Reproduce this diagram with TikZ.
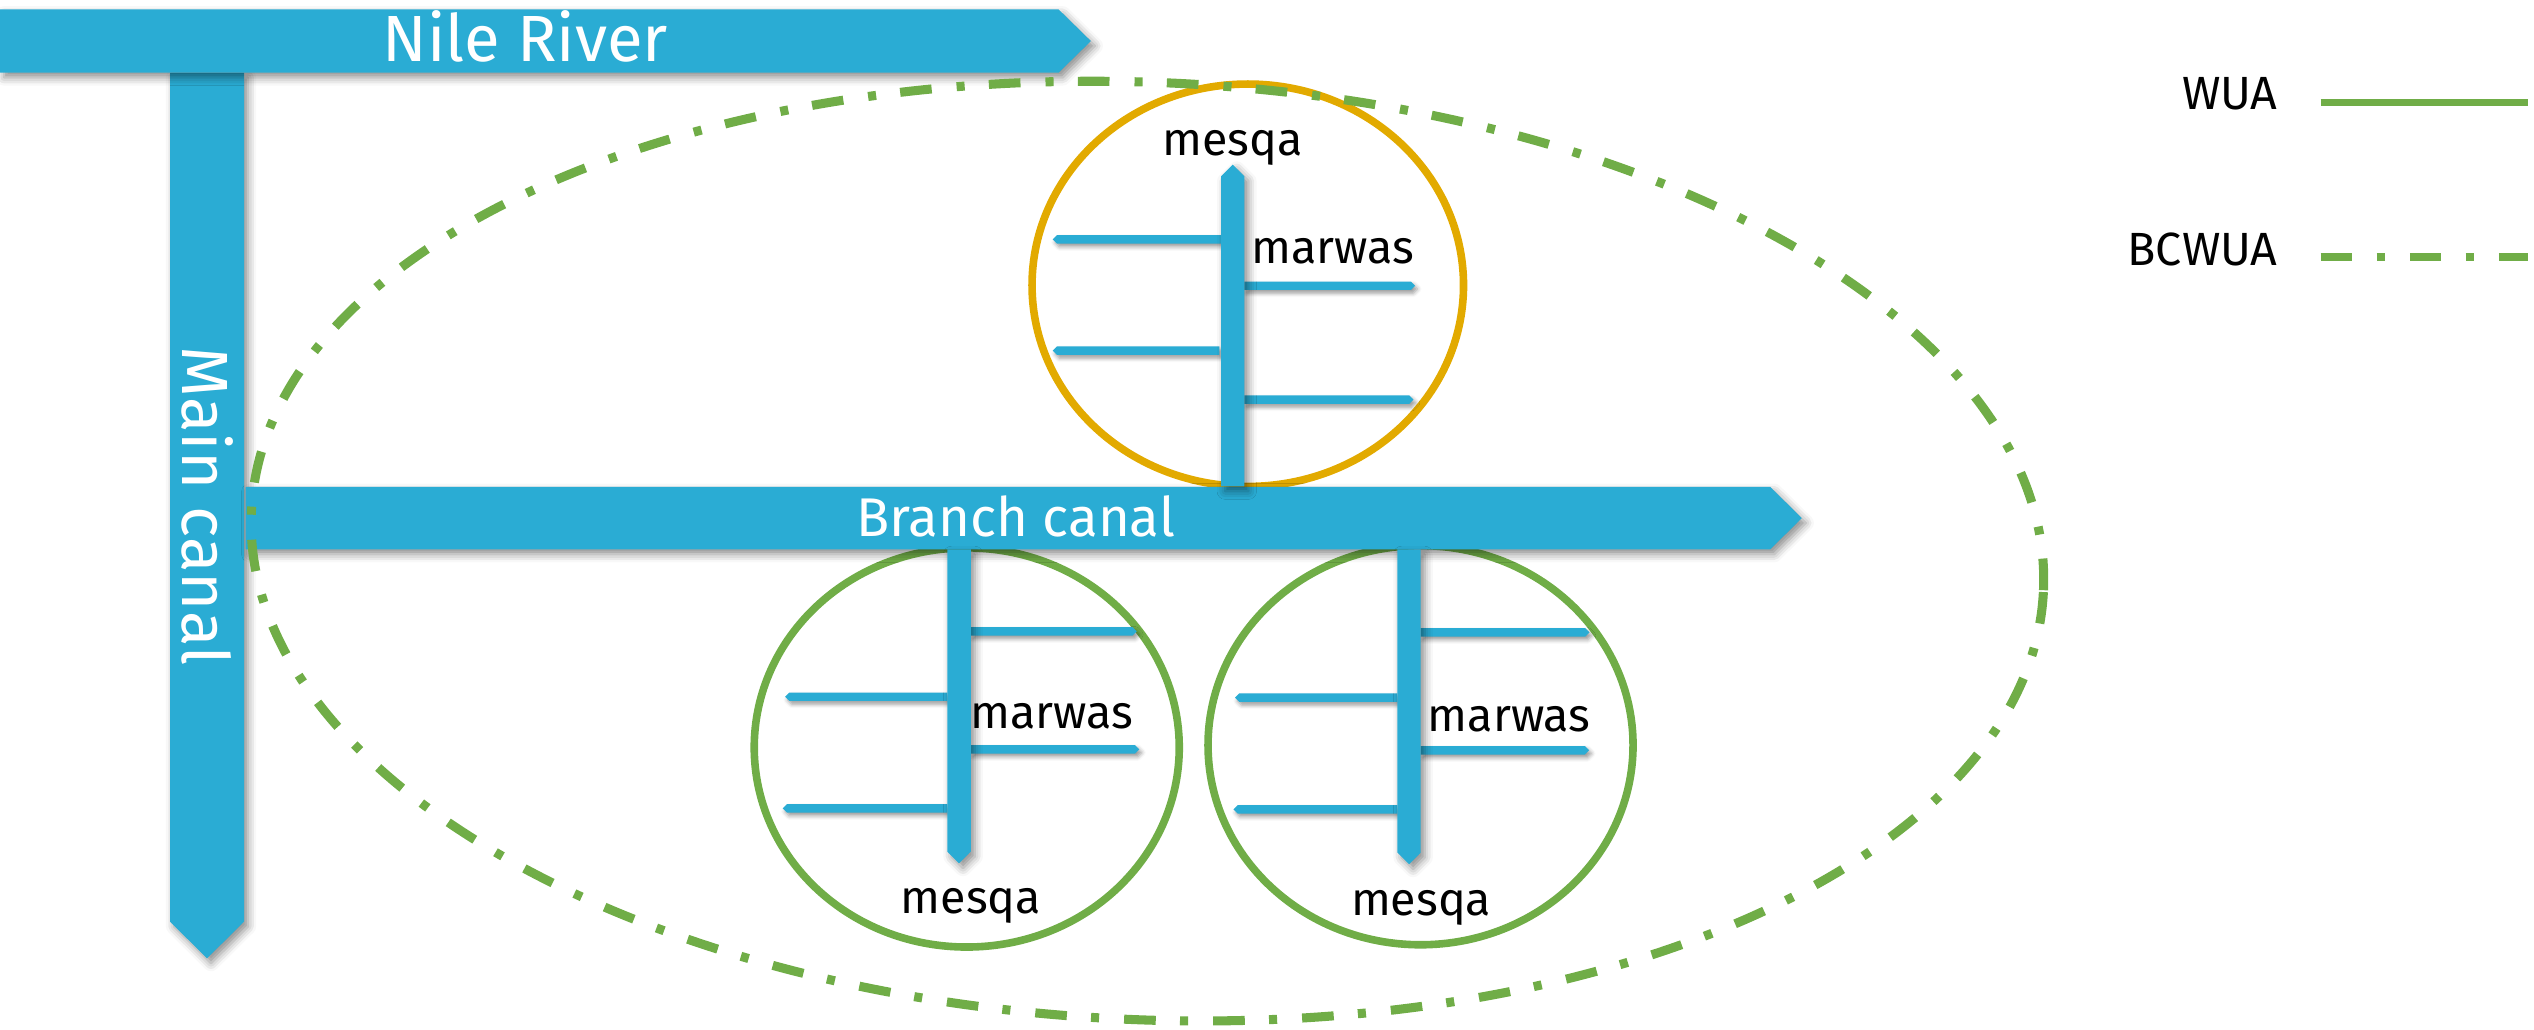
\documentclass[tikz,border=0pt]{standalone}
\usepackage{fontspec}
\setmainfont{Fira Sans}
\usepackage{xcolor}
\usepackage{tikz}
\usetikzlibrary{positioning, shapes}
\usetikzlibrary{arrows.meta}
\usetikzlibrary{shadows.blur}
\definecolor{canalblue}{RGB}{42,172,212}
\definecolor{wuagreen}{RGB}{112,173,71}
\definecolor{mesqagold}{RGB}{226,170,0}

\begin{document}
\begin{tikzpicture}
            \tikzset{canal/.style = {fill=canalblue, blur shadow={shadow xshift=0.025cm, shadow yshift=-0.03cm, shadow blur radius=0.05cm, shadow opacity=45}}}
            \tikzset{marwa/.style = {fill=canalblue, blur shadow={shadow xshift=0.015cm, shadow yshift=-0.02cm, shadow blur radius=0.025cm, shadow opacity=40}}}
            \tikzset{wua/.style = {draw=wuagreen, line width=0.047cm}}
            \tikzset{bcwua/.style = {draw=wuagreen, line width=0.05cm, dash pattern=on 0.196cm off 0.15cm on 0.05cm off 0.155cm}}
            \tikzset{biglabel/.style = {text=white, inner sep=0pt, font=\fontsize{11.5}{13}\selectfont}}
            \tikzset{branchlabel/.style = {text=white, inner sep=0pt, font=\fontsize{9.6}{11}\selectfont}}
            \tikzset{smalllabel/.style = {inner sep=0pt, font=\fontsize{8.2}{10}\selectfont}}

            \useasboundingbox (0,0) rectangle (15.68,6.37);

            % water user associations
            \node[ellipse, draw=mesqagold, line width=0.047cm, minimum width=2.67cm, minimum height=2.49cm, inner sep=0pt] (wuatop) at (7.721, 4.605) {};
            \node[ellipse, wua, minimum width=2.63cm, minimum height=2.47cm, inner sep=0pt] (wualeft) at (5.982, 1.745) {};
            \node[ellipse, wua, minimum width=2.63cm, minimum height=2.47cm, inner sep=0pt] (wuaright) at (8.79, 1.759) {};

            % main canal, branch canal, river
            \fill[canal] (1.052, 5.92) -- (1.51, 5.92) -- (1.51, 0.667) -- (1.281, 0.44) -- (1.052, 0.667) -- cycle;
            \fill[canal] (1.52, 3.358) -- (10.953, 3.358) -- (11.149, 3.164) -- (10.953, 2.97) -- (1.52, 2.97) -- cycle;
            \fill[canal] (0, 6.312) -- (6.55, 6.312) -- (6.75, 6.116) -- (6.55, 5.92) -- (0, 5.92) -- cycle;
            \node[biglabel, anchor=base] (nile) at (3.25, 5.988) {Nile River};
            \node[biglabel, rotate=-90] (main) at (1.283, 3.24) {Main canal};
            \node[branchlabel, anchor=base] (branch) at (6.285, 3.05) {Branch canal};

            % upper mesqa
            \fill[marwa] (7.556, 4.915) -- (6.540, 4.915) -- (6.514, 4.889) -- (6.540, 4.863) -- (7.556, 4.863) -- cycle;
            \fill[marwa] (7.545, 4.226) -- (6.540, 4.226) -- (6.514, 4.200) -- (6.540, 4.174) -- (7.545, 4.174) -- cycle;
            \fill[marwa] (7.70, 4.628) -- (8.730, 4.628) -- (8.756, 4.602) -- (8.730, 4.576) -- (7.70, 4.576) -- cycle;
            \fill[marwa] (7.70, 3.923) -- (8.720, 3.923) -- (8.746, 3.897) -- (8.720, 3.871) -- (7.70, 3.871) -- cycle;
            \fill[canal] (7.556, 3.36) -- (7.556, 5.28) -- (7.628, 5.352) -- (7.70, 5.28) -- (7.70, 3.36) -- cycle;
            \node[smalllabel, anchor=base] (mesqatop) at (7.626, 5.405) {mesqa};
            \node[smalllabel, anchor=base west] (marwatop) at (7.735, 4.74) {marwas};

            % lower left mesqa
            \fill[marwa] (6.007, 2.489) -- (7.008, 2.489) -- (7.034, 2.463) -- (7.008, 2.437) -- (6.007, 2.437) -- cycle;
            \fill[marwa] (6.007, 1.759) -- (7.024, 1.759) -- (7.050, 1.733) -- (7.024, 1.707) -- (6.007, 1.707) -- cycle;
            \fill[marwa] (5.862, 2.085) -- (4.884, 2.085) -- (4.858, 2.059) -- (4.884, 2.033) -- (5.862, 2.033) -- cycle;
            \fill[marwa] (5.862, 1.394) -- (4.869, 1.394) -- (4.843, 1.368) -- (4.869, 1.342) -- (5.862, 1.342) -- cycle;
            \fill[canal] (5.862, 2.97) -- (5.862, 1.10) -- (5.934, 1.028) -- (6.007, 1.10) -- (6.007, 2.97) -- cycle;
            \node[smalllabel, anchor=base west] (marwaleft) at (5.998, 1.863) {marwas};
            \node[smalllabel, anchor=base] (mesqaleft) at (6.008, 0.718) {mesqa};

            % lower right mesqa
            \fill[marwa] (8.791, 2.483) -- (9.809, 2.483) -- (9.835, 2.457) -- (9.809, 2.431) -- (8.791, 2.431) -- cycle;
            \fill[marwa] (8.791, 1.753) -- (9.807, 1.753) -- (9.833, 1.727) -- (9.807, 1.701) -- (8.791, 1.701) -- cycle;
            \fill[marwa] (8.647, 2.079) -- (7.668, 2.079) -- (7.642, 2.053) -- (7.668, 2.027) -- (8.647, 2.027) -- cycle;
            \fill[marwa] (8.647, 1.388) -- (7.658, 1.388) -- (7.632, 1.362) -- (7.658, 1.336) -- (8.647, 1.336) -- cycle;
            \fill[canal] (8.647, 2.97) -- (8.647, 1.094) -- (8.719, 1.022) -- (8.791, 1.094) -- (8.791, 2.97) -- cycle;
            \node[smalllabel, anchor=base west] (marwaright) at (8.828, 1.846) {marwas};
            \node[smalllabel, anchor=base] (mesqaright) at (8.794, 0.708) {mesqa};

            % branch canal water user association
            \node[ellipse, bcwua, line width=0.056cm, minimum width=11.1cm, minimum height=5.8cm, inner sep=0pt, rotate=-2.5] (bcwua) at (7.10, 2.96) {};

            % legend
            \node[smalllabel, anchor=base east] (wualabel) at (14.10, 5.69) {WUA};
            \coordinate (wuastart) at (14.36, 5.735);
            \coordinate (wuaend) at (15.64, 5.735);
            \draw[wua] (wuastart) -- (wuaend);
            \node[smalllabel, anchor=base east] (bcwualabel) at (14.10, 4.73) {BCWUA};
            \coordinate (bcwuastart) at (14.36, 4.778);
            \coordinate (bcwuaend) at (15.64, 4.778);
            \draw[bcwua] (bcwuastart) -- (bcwuaend);

        \end{tikzpicture}
\end{document}
